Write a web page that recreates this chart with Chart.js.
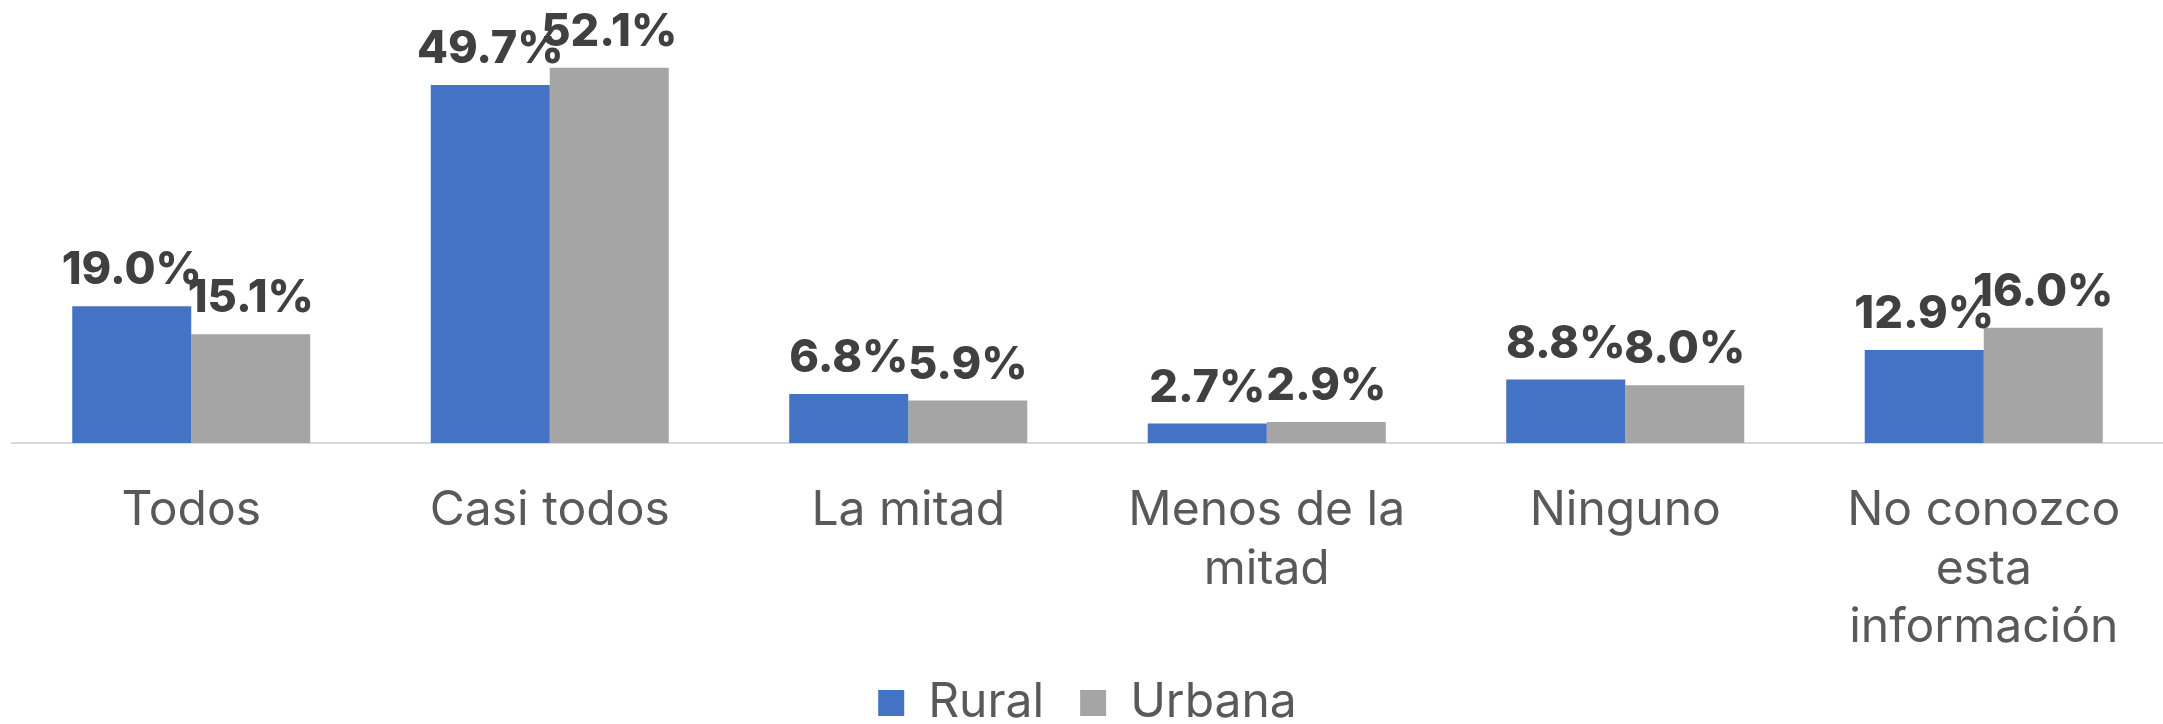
<!DOCTYPE html>
<html>
<head>
<meta charset="utf-8">
<script src="https://cdn.jsdelivr.net/npm/chart.js@4.4.1/dist/chart.umd.min.js"></script>
<style>
  html, body { margin: 0; padding: 0; background: #ffffff; overflow: hidden; }
  #wrap { width: 2163px; height: 724px; overflow: hidden; }
</style>
</head>
<body>
<div id="wrap"><canvas id="chart" width="2163" height="737"></canvas></div>
<script>
// Chart data
const categories = [['Todos'], ['Casi todos'], ['La mitad'], ['Menos de la', 'mitad'], ['Ninguno'], ['No conozco', 'esta', 'información']];
const rural = [19.0, 49.7, 6.8, 2.7, 8.8, 12.9];
const urbana = [15.1, 52.1, 5.9, 2.9, 8.0, 16.0];

const FONT = "Inter, 'Open Sans', sans-serif";

// Draw value labels above every bar
const barLabels = {
  id: 'barLabels',
  afterDatasetsDraw(chart) {
    const ctx = chart.ctx;
    ctx.save();
    ctx.font = '800 45px ' + FONT;
    ctx.fillStyle = '#404040';
    ctx.textAlign = 'center';
    ctx.textBaseline = 'alphabetic';
    chart.data.datasets.forEach((ds, i) => {
      chart.getDatasetMeta(i).data.forEach((bar, j) => {
        ctx.fillText(ds.data[j].toFixed(1) + '%', bar.x, bar.y - 22);
      });
    });
    ctx.restore();
  }
};

new Chart(document.getElementById('chart'), {
  type: 'bar',
  data: {
    labels: categories,
    datasets: [
      { label: 'Rural', data: rural, backgroundColor: '#4472C4', borderWidth: 0 },
      { label: 'Urbana', data: urbana, backgroundColor: '#A5A5A5', borderWidth: 0 }
    ]
  },
  options: {
    responsive: false,
    animation: false,
    layout: { padding: { left: 12, right: 0, top: 0, bottom: 0 } },
    datasets: { bar: { categoryPercentage: 0.664, barPercentage: 1.0 } },
    plugins: {
      tooltip: { enabled: false },
      legend: {
        position: 'bottom',
        labels: {
          boxWidth: 26,
          boxHeight: 26,
          padding: 36,
          color: '#595959',
          font: { family: FONT, size: 48 }
        }
      }
    },
    scales: {
      x: {
        grid: { display: false },
        border: { display: true, color: '#d9d9d9', width: 2 },
        ticks: {
          color: '#595959',
          font: { family: FONT, size: 48, lineHeight: 1.21 },
          padding: 31,
          maxRotation: 0,
          autoSkip: false
        },
        afterFit(scale) {
          scale.height = 200;
        }
      },
      y: {
        display: false,
        min: 0,
        max: 61.5
      }
    }
  },
  plugins: [barLabels]
});
</script>
</body>
</html>
